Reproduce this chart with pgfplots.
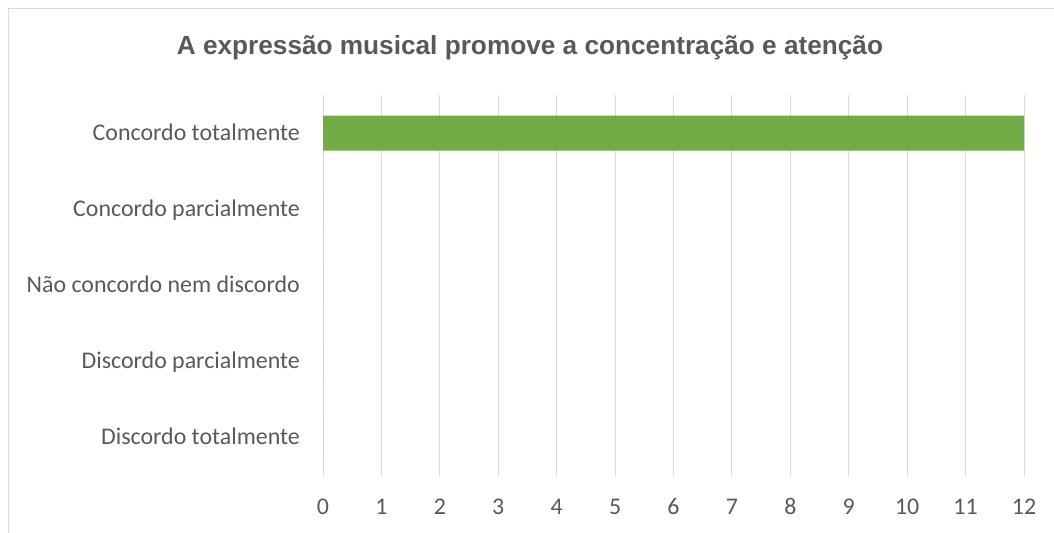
\documentclass[border=0pt]{standalone}
\usepackage{fontspec}
\setmainfont{Carlito}
\newfontfamily\titlefont{Liberation Sans}
\usepackage{pgfplots}
\pgfplotsset{compat=1.18}
\definecolor{gridgray}{HTML}{D9D9D9}
\definecolor{textgray}{HTML}{595959}
\definecolor{bargreen}{HTML}{70AD47}
\begin{document}
\begin{tikzpicture}[x=1bp,y=1bp]
  \useasboundingbox (0,0) rectangle (1054,533);
  % chart frame (only top and left edges are visible)
  \draw[gridgray, line width=1bp] (8.5,0) -- (8.5,524.5) -- (1054,524.5);
  \node[font=\titlefont\bfseries\fontsize{26.3}{30}\selectfont, text=textgray,
        anchor=base, inner sep=0pt]
    at (530,478) {A expressão musical promove a concentração e atenção};
  \begin{axis}[
      at={(323bp,57bp)}, anchor=south west,
      scale only axis, width=701bp, height=381bp,
      xbar, bar width=35bp,
      xmin=0, xmax=12, ymin=-0.5, ymax=4.5,
      xtick={0,...,12},
      ytick={0,...,4},
      yticklabels={Discordo totalmente, Discordo parcialmente,
                   Não concordo nem discordo, Concordo parcialmente,
                   Concordo totalmente},
      axis line style={draw=none},
      major tick length=0pt,
      xmajorgrids, grid style={gridgray, line width=1bp},
      tick label style={font=\fontsize{24}{28}\selectfont, text=textgray, inner sep=0pt},
      /pgf/number format/assume math mode=true,
      yticklabel style={anchor=base east, xshift=-23bp, yshift=-7bp},
      xticklabel style={anchor=base, yshift=-39bp},
    ]
    \addplot[fill=bargreen, draw=none] coordinates {
      (0,0) (0,1) (0,2) (0,3) (12,4)
    };
  \end{axis}
\end{tikzpicture}
\end{document}
